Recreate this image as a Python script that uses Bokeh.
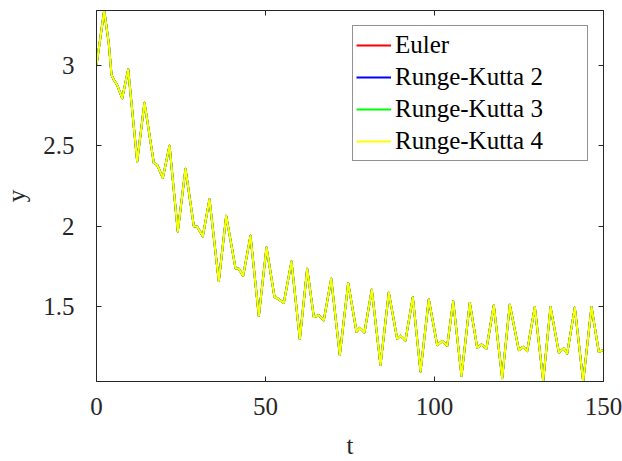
from bokeh.plotting import figure
from bokeh.models import Range1d, LinearAxis, Legend, LegendItem, FixedTicker
from bokeh.embed import file_html
from bokeh.resources import INLINE

# values (key points of the solution curve)
t = [0, 2.28, 3.64, 4.44, 5.12, 6.12, 7.60, 9.38, 12.04, 14.20, 16.95, 17.96, 19.62,
     21.60, 24.05, 26.33, 28.79, 29.79, 31.45, 33.43, 36.18, 38.37, 41.12, 42.10, 43.40,
     45.56, 48.02, 50.30, 52.66, 53.64, 55.41, 57.69, 60.15, 62.34, 64.29, 65.77, 67.25,
     69.44, 71.98, 74.47, 76.92, 77.90, 79.29, 81.45, 84.02, 86.48, 88.96, 89.94, 91.42,
     93.58, 95.86, 98.31, 100.80, 102.28, 103.76, 105.53, 107.99, 110.44, 112.63, 113.91,
     115.38, 117.54, 120.03, 122.28, 124.94, 126.24, 127.43, 129.67, 132.16, 134.32,
     136.78, 138.25, 139.26, 141.51, 143.99, 146.45, 148.60, 150.0]
y_rk4 = [3.00, 3.34, 3.134, 2.94, 2.91, 2.877, 2.795, 2.973, 2.403, 2.767, 2.393, 2.38, 2.30,
         2.50, 1.967, 2.356, 2.00, 1.996, 1.937, 2.167, 1.659, 2.064, 1.739, 1.735, 1.693,
         1.94, 1.443, 1.868, 1.56, 1.55, 1.523, 1.78, 1.30, 1.735, 1.436, 1.447, 1.416,
         1.673, 1.20, 1.646, 1.344, 1.368, 1.34, 1.605, 1.138, 1.587, 1.30, 1.32, 1.29,
         1.558, 1.097, 1.545, 1.261, 1.286, 1.257, 1.533, 1.07, 1.523, 1.245, 1.265,
         1.24, 1.508, 1.056, 1.512, 1.23, 1.25, 1.224, 1.498, 1.04, 1.498,
         1.216, 1.24, 1.21, 1.494, 1.035, 1.498, 1.22, 1.23]
y_euler = list(y_rk4)
y_rk2 = list(y_rk4)
y_rk3 = list(y_rk4)

labels = ["Euler", "Runge-Kutta 2", "Runge-Kutta 3", "Runge-Kutta 4"]
colors = ["#ff0000", "#0000ff", "#00ff00", "#ffff00"]
x_ticks = [0, 50, 100, 150]
y_ticks = [1.5, 2, 2.5, 3]

FONT = "Liberation Serif"
AX = "#262626"

p = figure(width=622, height=461, output_backend="svg", toolbar_location=None,
           x_range=Range1d(0, 150), y_range=Range1d(1.035, 3.34),
           min_border_left=96, min_border_right=19, min_border_top=10, min_border_bottom=78)
p.grid.visible = False
p.background_fill_color = "white"
p.border_fill_color = "white"
p.outline_line_color = AX
p.outline_line_width = 1

for ax in (p.xaxis[0], p.yaxis[0]):
    ax.major_tick_in = 5
    ax.major_tick_out = 0
    ax.minor_tick_line_color = None
    ax.axis_line_color = AX
    ax.major_tick_line_color = AX
    ax.major_label_text_font = FONT
    ax.major_label_text_font_size = "25px"
    ax.major_label_text_color = AX
    ax.axis_label_text_font = FONT
    ax.axis_label_text_font_size = "25px"
    ax.axis_label_text_font_style = "normal"
    ax.axis_label_text_color = AX

p.xaxis[0].ticker = FixedTicker(ticks=x_ticks)
p.yaxis[0].ticker = FixedTicker(ticks=y_ticks)
p.xaxis[0].axis_label = "t"
p.yaxis[0].axis_label = "y"
p.xaxis[0].major_label_standoff = 16
p.yaxis[0].major_label_standoff = 22
p.xaxis[0].axis_label_standoff = 14
p.yaxis[0].axis_label_standoff = 10

for loc, ticks in (("right", y_ticks), ("above", x_ticks)):
    a = LinearAxis(ticker=FixedTicker(ticks=ticks), major_tick_in=5, major_tick_out=0,
                   minor_tick_line_color=None, axis_line_color=AX, major_tick_line_color=AX,
                   major_label_overrides={tk: "" for tk in ticks}, major_label_standoff=0)
    p.add_layout(a, loc)

series = [y_euler, y_rk2, y_rk3, y_rk4]
renderers = []
for ys, c in zip(series, colors):
    r = p.line(t, ys, line_color=c, line_width=2, line_join="round")
    renderers.append(r)

items = [LegendItem(label=lab, renderers=[r]) for lab, r in zip(labels, renderers)]

legend = Legend(items=items, location="top_right", margin=15, padding=3, spacing=0,
                glyph_width=35, glyph_height=32, label_height=32, label_width=189,
                label_standoff=4, label_text_font=FONT, label_text_font_size="25px",
                label_text_color="black", border_line_color=AX, border_line_width=1,
                background_fill_color="white", background_fill_alpha=1)
p.add_layout(legend)

open("out.html", "w").write(file_html(p, INLINE))
